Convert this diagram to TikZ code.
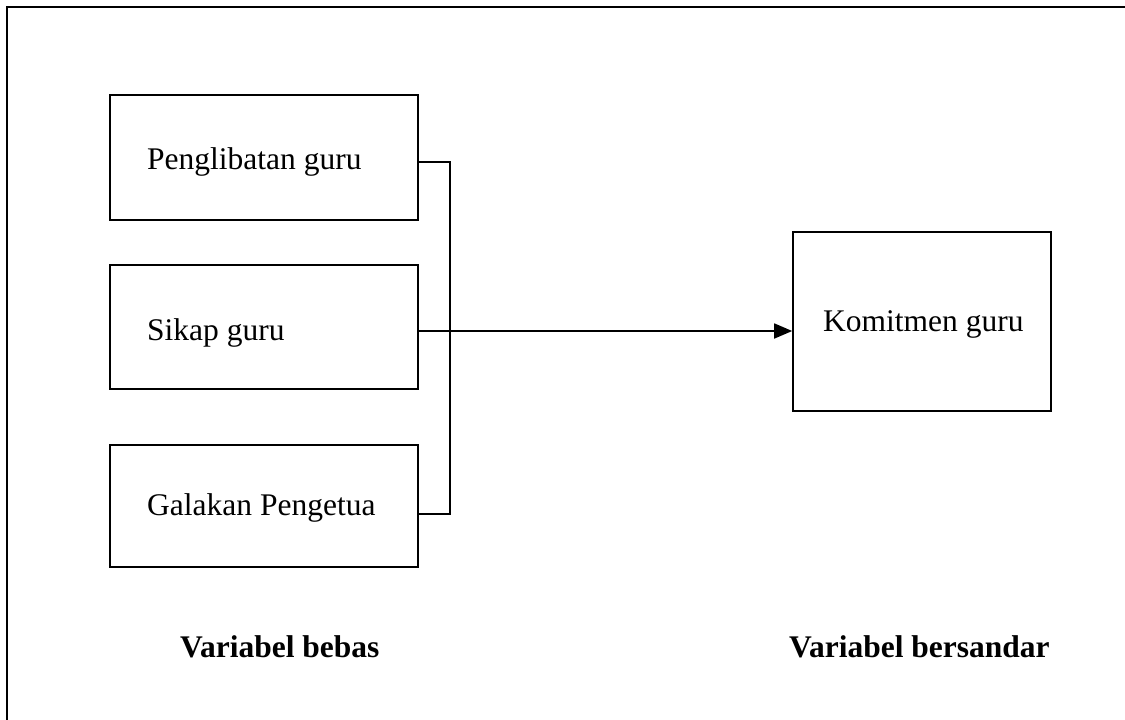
\documentclass[tikz,border=0pt]{standalone}
\usepackage{fontspec}
\setmainfont{Liberation Serif}
\usetikzlibrary{arrows.meta}
\begin{document}
\begin{tikzpicture}[x=1pt,y=-1pt,
  box/.style={draw=black,line width=1.6pt,minimum width=308pt,inner sep=0pt},
  lbl/.style={anchor=base west,inner sep=0pt,font=\fontsize{31.5}{38}\selectfont},
  blbl/.style={anchor=base west,inner sep=0pt,font=\fontsize{31.5}{38}\selectfont\bfseries},
  conn/.style={draw=black,line width=1.7pt}]
\useasboundingbox (0,0) rectangle (1125,720);
\clip (0,0) rectangle (1125,720);
\draw[line width=2.4pt] (7,7) rectangle (1140,740);
% boxes
\node[box,minimum height=125pt] (b1) at (264,157.5) {};
\node[box,minimum height=124pt] (b2) at (264,327) {};
\node[box,minimum height=122pt] (b3) at (264,506) {};
\node[box,minimum width=258pt,minimum height=179pt] (b4) at (922,321.5) {};
% texts
\node[lbl] (t1) at (147,169) {Penglibatan guru};
\node[lbl] (t2) at (147,340) {Sikap guru};
\node[lbl] (t3) at (147,515) {Galakan Pengetua};
\node[lbl] (t4) at (823,331) {Komitmen guru};
\node[blbl] (v1) at (180,657) {Variabel bebas};
\node[blbl] (v2) at (789,657) {Variabel bersandar};
% connectors
\coordinate (j1) at (450,162);
\coordinate (j2) at (450,331);
\coordinate (j3) at (450,514);
\draw[conn] (b1.east |- j1) -- (j1) -- (j3) -- (b3.east |- j3);
\draw[conn] (b2.east |- j2) -- (j2);
\draw[conn,-{Triangle[length=18pt,width=15pt]}] (j2) -- (b4.west |- j2);
\end{tikzpicture}
\end{document}
